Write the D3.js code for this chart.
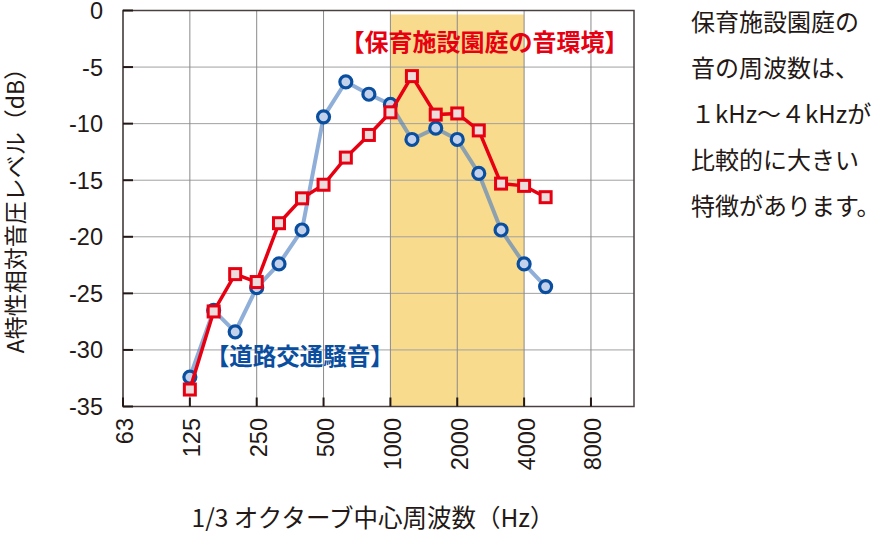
<!DOCTYPE html>
<html>
<head>
<meta charset="utf-8">
<script src="https://cdn.jsdelivr.net/npm/d3@7"></script>
<style>
  body { margin: 0; background: #fff; }
  svg { display: block; }
</style>
</head>
<body>
<div id="chart"></div>
<script>
// 1/3 octave centre frequencies (Hz)
const freqs = [125, 160, 200, 250, 315, 400, 500, 630, 800, 1000, 1250, 1600, 2000, 2500, 3150, 4000, 5000];
// road traffic noise, dB
const roadValues = [-32.4, -26.5, -28.4, -24.5, -22.4, -19.4, -9.4, -6.3, -7.4, -8.3, -11.4, -10.4, -11.4, -14.4, -19.4, -22.4, -24.4];
// nursery playground, dB
const gardenValues = [-33.5, -26.6, -23.3, -24.0, -18.8, -16.6, -15.4, -13.0, -11.0, -9.0, -5.8, -9.2, -9.1, -10.6, -15.3, -15.5, -16.5];
const tickFreqs = [62.5, 125, 250, 500, 1000, 2000, 4000, 8000];
const tickLabels = ['63', '125', '250', '500', '1000', '2000', '4000', '8000'];
const yTicks = [0, -5, -10, -15, -20, -25, -30, -35];
const band = [1000, 4000];
const noteLines = ['保育施設園庭の', '音の周波数は、', '１kHz～４kHzが', '比較的に大きい', '特徴があります。'];

const width = 880, height = 534;
const latin = '"Liberation Sans", Arial, sans-serif';
const cjk = '"Noto Sans CJK JP", "Noto Sans", sans-serif';

const x = d3.scaleLog().base(2)
  .domain([62.5, 12500])
  .range([123, 634]);

const y = d3.scaleLinear()
  .domain([0, -35])
  .range([10.5, 406.5]);

const svg = d3.select('#chart').append('svg')
  .attr('width', width)
  .attr('height', height);

// highlighted band 1k-4k
svg.append('rect')
  .attr('x', x(band[0]))
  .attr('y', y(0) + 4)
  .attr('width', x(band[1]) - x(band[0]))
  .attr('height', y(-35) - y(0) - 4)
  .attr('fill', '#f9db8e');

// grid
svg.selectAll('line.hgrid')
  .data(yTicks)
  .enter()
  .append('line')
  .attr('class', 'hgrid')
  .attr('x1', x.range()[0])
  .attr('x2', x.range()[1])
  .attr('y1', d => y(d))
  .attr('y2', d => y(d))
  .attr('stroke', '#a0a0a0')
  .attr('stroke-width', 1);

svg.selectAll('line.vgrid')
  .data(tickFreqs)
  .enter()
  .append('line')
  .attr('class', 'vgrid')
  .attr('x1', d => x(d))
  .attr('x2', d => x(d))
  .attr('y1', y(0))
  .attr('y2', y(-35))
  .attr('stroke', '#8a8a8a')
  .attr('stroke-width', 1);

// frame
svg.append('rect')
  .attr('x', x.range()[0])
  .attr('y', y(0))
  .attr('width', x.range()[1] - x.range()[0])
  .attr('height', y(-35) - y(0))
  .attr('fill', 'none')
  .attr('stroke', '#4a4040')
  .attr('stroke-width', 1.5);

// inward tick marks
svg.selectAll('line.ytick')
  .data(yTicks)
  .enter()
  .append('line')
  .attr('class', 'ytick')
  .attr('x1', x.range()[0])
  .attr('x2', x.range()[0] + 10)
  .attr('y1', d => y(d))
  .attr('y2', d => y(d))
  .attr('stroke', '#231815')
  .attr('stroke-width', 2);

svg.selectAll('line.xtick')
  .data(tickFreqs)
  .enter()
  .append('line')
  .attr('class', 'xtick')
  .attr('x1', d => x(d))
  .attr('x2', d => x(d))
  .attr('y1', y(-35))
  .attr('y2', y(-35) - 9)
  .attr('stroke', '#231815')
  .attr('stroke-width', 2);

// y labels
svg.selectAll('text.ylabel')
  .data(yTicks)
  .enter()
  .append('text')
  .attr('class', 'ylabel')
  .text(d => d)
  .attr('x', 103)
  .attr('y', d => y(d))
  .attr('dy', '0.36em')
  .style('font-family', latin)
  .style('font-size', '23.5px')
  .style('fill', '#231815')
  .style('text-anchor', 'end');

// x labels, rotated
svg.selectAll('text.xlabel')
  .data(tickFreqs)
  .enter()
  .append('text')
  .attr('class', 'xlabel')
  .text((d, i) => tickLabels[i])
  .attr('transform', d => 'translate(' + (x(d) + 2) + ',418) rotate(-90)')
  .attr('dy', '0.36em')
  .style('font-family', latin)
  .style('font-size', '23.5px')
  .style('fill', '#231815')
  .style('text-anchor', 'end');

// axis titles
svg.append('text')
  .text('A特性相対音圧レベル（dB）')
  .attr('transform', 'translate(16,205) rotate(-90)')
  .attr('dy', '0.35em')
  .style('font-family', cjk)
  .style('font-size', '23px')
  .style('fill', '#231815')
  .style('text-anchor', 'middle');

svg.append('text')
  .text('1/3 オクターブ中心周波数（Hz）')
  .attr('x', 373)
  .attr('y', 518)
  .attr('dy', '0.35em')
  .style('font-family', cjk)
  .style('font-size', '24.5px')
  .style('fill', '#231815')
  .style('text-anchor', 'middle');

const line = d3.line()
  .x((d, i) => x(freqs[i]))
  .y(d => y(d));

// road traffic series
svg.append('path')
  .datum(roadValues)
  .attr('fill', 'none')
  .attr('stroke', '#4a7cc0')
  .attr('stroke-opacity', 0.62)
  .attr('stroke-width', 4)
  .attr('stroke-linejoin', 'round')
  .attr('d', line);

svg.selectAll('circle.road')
  .data(roadValues)
  .enter()
  .append('circle')
  .attr('class', 'road')
  .attr('cx', (d, i) => x(freqs[i]))
  .attr('cy', d => y(d))
  .attr('r', 6)
  .attr('fill', '#c3d2ea')
  .attr('stroke', '#0a4ea0')
  .attr('stroke-width', 3.2);

// playground series
svg.append('path')
  .datum(gardenValues)
  .attr('fill', 'none')
  .attr('stroke', '#e60012')
  .attr('stroke-width', 3.5)
  .attr('stroke-linejoin', 'miter')
  .attr('d', line);

svg.selectAll('rect.garden')
  .data(gardenValues)
  .enter()
  .append('rect')
  .attr('class', 'garden')
  .attr('x', (d, i) => x(freqs[i]) - 5.5)
  .attr('y', d => y(d) - 5.5)
  .attr('width', 11)
  .attr('height', 11)
  .attr('fill', '#ecdcdc')
  .attr('stroke', '#e60012')
  .attr('stroke-width', 3);

// series labels
svg.append('text')
  .text('【保育施設園庭の音環境】')
  .attr('x', x(1000) - 50)
  .attr('y', y(-2.8))
  .attr('dy', '0.35em')
  .style('font-family', cjk)
  .style('font-weight', 'bold')
  .style('font-size', '24px')
  .style('fill', '#e60012');

svg.append('text')
  .text('【道路交通騒音】')
  .attr('x', x(160) - 8)
  .attr('y', y(-30.6))
  .attr('dy', '0.35em')
  .style('font-family', cjk)
  .style('font-weight', 'bold')
  .style('font-size', '23.5px')
  .style('fill', '#0a4ea0');

// note on the right
svg.selectAll('text.note')
  .data(noteLines)
  .enter()
  .append('text')
  .attr('class', 'note')
  .text(d => d)
  .attr('x', 691)
  .attr('y', (d, i) => 23 + i * 46)
  .attr('dy', '0.35em')
  .style('font-family', cjk)
  .style('font-size', '24px')
  .style('fill', '#231815');
</script>
</body>
</html>
